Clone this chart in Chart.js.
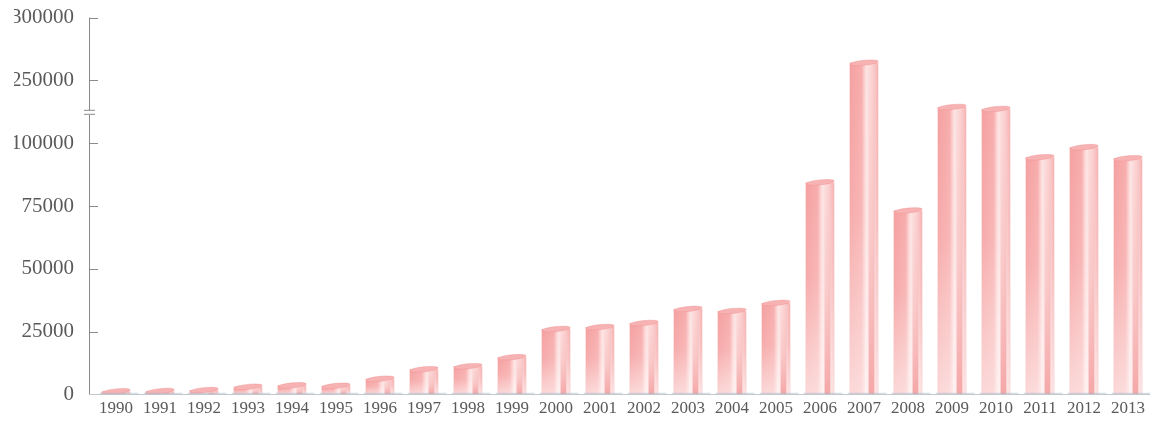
<!DOCTYPE html>
<html>
<head>
<meta charset="utf-8">
<script src="https://cdn.jsdelivr.net/npm/chart.js@4"></script>
<style>
  html, body { margin: 0; padding: 0; background: #fff; overflow: hidden; }
  #wrap { width: 1150px; height: 442px; position: relative; top: -15px; }
</style>
</head>
<body>
<div id="wrap"><canvas id="bars"></canvas></div>
<script>
/* Bar chart with a broken y axis (100000 -> 250000).
   Values are in axis-position units: each tick step is 25000 on the plotted scale,
   the two top ticks carry the labels 250000 and 300000. */

const years = ['1990', '1991', '1992', '1993', '1994', '1995', '1996', '1997', '1998', '1999',
    '2000', '2001', '2002', '2003', '2004', '2005', '2006', '2007', '2008', '2009',
    '2010', '2011', '2012', '2013'];

const values = [1200, 1300, 1700, 3000, 3600, 3400, 6200, 10000, 11200, 14800,
    26000, 26800, 28400, 34000, 33200, 36400, 84400, 132000, 73200, 114400,
    113600, 94400, 98400, 94000];

const tickLabels = ['0', '25000', '50000', '75000', '100000', '250000', '300000'];
const tickStep = 25000;

const AXIS_GRAY = '#8a8a8a';
const TEXT_GRAY = '#5a5a5a';
const BAR_PCT = 0.65;

function barGradient(ctx) {
    const chart = ctx.chart;
    const xs = chart.scales.x;
    if (!chart.chartArea || !xs) return '#f7a9a9';
    const cx = xs.getPixelForValue(ctx.dataIndex);
    const w = xs.width / years.length * BAR_PCT;
    const g = chart.ctx.createLinearGradient(cx - w / 2, 0, cx + w / 2, 0);
    g.addColorStop(0, '#f5a0a0');
    g.addColorStop(0.42, '#f8adad');
    g.addColorStop(0.50, '#fbcaca');
    g.addColorStop(0.58, '#fde4e4');
    g.addColorStop(0.80, '#fbd1d1');
    g.addColorStop(1, '#f6b2b2');
    return g;
}

// shading, stripe and top cap on top of the library's bars
const cylinderPlugin = {
    id: 'cylinder',
    afterDatasetsDraw(chart) {
        const c = chart.ctx;
        const meta = chart.getDatasetMeta(0);
        meta.data.forEach((el) => {
            const { x, y, base, width } = el.getProps(['x', 'y', 'base', 'width'], true);
            const left = x - width / 2;
            const h = base - y;
            c.save();
            // fade the lower part toward pale pink
            const vg = c.createLinearGradient(0, y, 0, base);
            vg.addColorStop(0, 'rgba(255,250,250,0)');
            vg.addColorStop(0.45, 'rgba(255,250,250,0.12)');
            vg.addColorStop(1, 'rgba(255,250,250,0.62)');
            c.fillStyle = vg;
            c.fillRect(left, y, width, h);
            // darker stripe near the right edge toward the bottom
            const sg = c.createLinearGradient(0, y, 0, base);
            sg.addColorStop(0, 'rgba(243,150,150,0)');
            sg.addColorStop(0.5, 'rgba(243,150,150,0.25)');
            sg.addColorStop(1, 'rgba(243,150,150,0.8)');
            c.fillStyle = sg;
            c.fillRect(left + width * 0.66, y, width * 0.2, h);
            // top cap
            c.beginPath();
            c.ellipse(x, y, width / 2, 2.5, -0.1, 0, Math.PI * 2);
            c.fillStyle = '#f7b3b3';
            c.fill();
            c.strokeStyle = 'rgba(240,140,140,0.5)';
            c.lineWidth = 0.8;
            c.stroke();
            // soft shadow at the base
            c.strokeStyle = 'rgba(160,185,205,0.45)';
            c.lineWidth = 1.2;
            c.beginPath();
            c.moveTo(left - 2, base - 1);
            c.lineTo(left + width + 8, base - 1);
            c.stroke();
            c.restore();
        });
    }
};

// y axis line drawn a little left of the plot, ticks pointing inward, break marker
const brokenAxisPlugin = {
    id: 'brokenAxis',
    afterDraw(chart) {
        const c = chart.ctx;
        const ys = chart.scales.y;
        const area = chart.chartArea;
        const ax = area.left - 5;
        c.save();
        c.strokeStyle = AXIS_GRAY;
        c.lineWidth = 1;
        c.beginPath();
        c.moveTo(ax + 0.5, area.top);
        c.lineTo(ax + 0.5, area.bottom);
        c.stroke();
        ys.ticks.forEach((t) => {
            const py = Math.round(ys.getPixelForValue(t.value)) + 0.5;
            c.beginPath();
            c.moveTo(ax, py);
            c.lineTo(ax + 9, py);
            c.stroke();
        });
        // baseline
        c.strokeStyle = '#c3c7cc';
        c.beginPath();
        c.moveTo(ax, Math.round(area.bottom) + 0.5);
        c.lineTo(area.right, Math.round(area.bottom) + 0.5);
        c.stroke();
        // break "=" between 100000 and 250000
        const by = (ys.getPixelForValue(4 * tickStep) + ys.getPixelForValue(5 * tickStep)) / 2 + 1;
        c.fillStyle = '#fff';
        c.fillRect(ax - 5, by - 2, 11, 4);
        c.strokeStyle = AXIS_GRAY;
        c.beginPath();
        c.moveTo(ax - 5, by - 2.5);
        c.lineTo(ax + 6, by - 2.5);
        c.moveTo(ax - 5, by + 1.5);
        c.lineTo(ax + 6, by + 1.5);
        c.stroke();
        c.restore();
    }
};

new Chart(document.getElementById('bars'), {
    type: 'bar',
    data: {
        labels: years,
        datasets: [{
            data: values,
            backgroundColor: barGradient,
            borderWidth: 0,
            barPercentage: BAR_PCT,
            categoryPercentage: 1
        }]
    },
    options: {
        responsive: true,
        maintainAspectRatio: false,
        animation: false,
        layout: { padding: { left: 14, right: 0, top: 2, bottom: 4 } },
        plugins: {
            legend: { display: false },
            tooltip: { enabled: false }
        },
        scales: {
            x: {
                grid: { display: false, drawTicks: false },
                border: { display: false },
                ticks: {
                    color: TEXT_GRAY,
                    padding: 4,
                    maxRotation: 0,
                    autoSkip: false,
                    font: { family: "'Liberation Serif', serif", size: 17 }
                }
            },
            y: {
                min: 0,
                max: tickStep * (tickLabels.length - 1),
                grid: { display: false, drawTicks: false },
                border: { display: false },
                afterFit: (scale) => { scale.width = 80; },
                ticks: {
                    stepSize: tickStep,
                    color: TEXT_GRAY,
                    padding: 20,
                    font: { family: "'Liberation Serif', serif", size: 21 },
                    callback: (v) => tickLabels[Math.round(v / tickStep)]
                }
            }
        }
    },
    plugins: [cylinderPlugin, brokenAxisPlugin]
});
</script>
</body>
</html>
